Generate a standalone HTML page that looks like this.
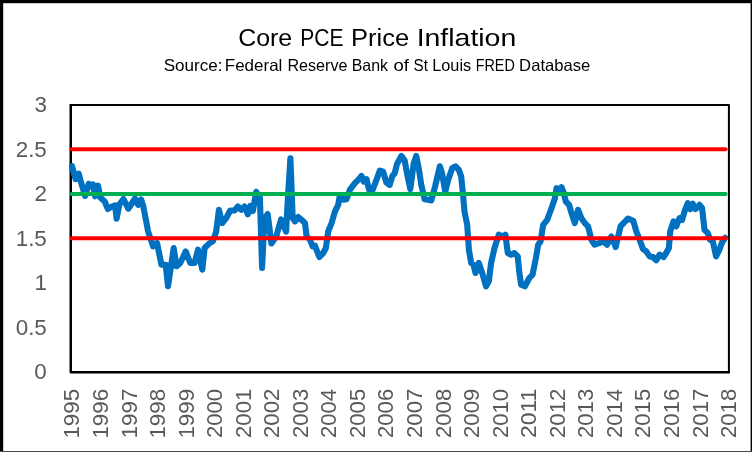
<!DOCTYPE html>
<html><head><meta charset="utf-8"><title>Core PCE Price Inflation</title>
<style>
html,body{margin:0;padding:0;background:#fff;}
body{width:752px;height:452px;overflow:hidden;position:relative;font-family:"Liberation Sans",sans-serif;}
svg{position:absolute;left:0;top:0;display:block;will-change:transform;}
text{font-family:"Liberation Sans",sans-serif;}
</style></head><body>
<svg width="752" height="452" viewBox="0 0 752 452">
<rect x="0" y="0" width="752" height="452" fill="#fff"/>
<!-- outer frame -->
<rect x="0" y="0" width="752" height="3.2" fill="#000"/>
<rect x="0" y="0" width="3.2" height="452" fill="#000"/>
<rect x="750.6" y="0" width="1.4" height="452" fill="#000"/>
<rect x="0" y="451" width="752" height="1" fill="#4a4a4a"/>
<!-- titles -->
<text transform="translate(238.19,45.5) scale(1.0058,1)" font-size="24.8" fill="#000">Core</text>
<text transform="translate(300.30,45.5) scale(0.8479,1)" font-size="24.8" fill="#000">PCE</text>
<text transform="translate(350.94,45.5) scale(1.0300,1)" font-size="24.8" fill="#000">Price</text>
<text transform="translate(416.66,45.5) scale(1.1470,1)" font-size="24.8" fill="#000">Inflation</text>
<text transform="translate(163.69,70.8) scale(1.0107,1)" font-size="16.9" fill="#000">Source:</text>
<text transform="translate(224.79,70.8) scale(1.0055,1)" font-size="16.9" fill="#000">Federal</text>
<text transform="translate(287.47,70.8) scale(0.9522,1)" font-size="16.9" fill="#000">Reserve</text>
<text transform="translate(351.68,70.8) scale(0.9434,1)" font-size="16.9" fill="#000">Bank</text>
<text transform="translate(393.43,70.8) scale(1.0970,1)" font-size="16.9" fill="#000">of</text>
<text transform="translate(413.58,70.8) scale(0.9007,1)" font-size="16.9" fill="#000">St</text>
<text transform="translate(432.15,70.8) scale(0.9661,1)" font-size="16.9" fill="#000">Louis</text>
<text transform="translate(475.71,70.8) scale(0.8493,1)" font-size="16.9" fill="#000">FRED</text>
<text transform="translate(519.12,70.8) scale(0.9857,1)" font-size="16.9" fill="#000">Database</text>
<!-- plot frame -->
<path d="M70.6,105 H728.9 V372.2" fill="none" stroke="#000" stroke-width="2" stroke-linejoin="round" stroke-linecap="round"/>
<path d="M70.75,104.2 V372.2 H729.8" fill="none" stroke="#000" stroke-width="2.5" stroke-linejoin="round" stroke-linecap="butt"/>
<!-- data -->
<polyline points="72.0,166.0 75.6,179.2 78.7,173.6 80.7,181.1 85.2,196.0 88.7,183.8 91.1,186.4 93.0,184.5 95.1,196.3 98.0,185.7 100.4,197.6 104.7,201.5 107.9,209.0 111.9,206.6 115.1,205.4 116.6,218.6 119.4,204.3 123.5,199.1 128.3,208.7 131.8,203.5 135.0,198.5 138.2,204.9 141.1,199.5 143.3,206.2 148.1,231.4 153.1,246.4 157.1,243.1 161.4,264.7 165.7,264.7 168.0,286.3 173.7,248.0 176.4,266.3 180.3,263.0 185.7,251.4 190.3,263.0 194.6,263.0 198.0,249.7 202.3,269.7 204.6,248.0 209.6,243.1 212.9,241.4 216.2,231.4 218.9,209.8 222.2,223.1 226.2,218.1 230.2,210.5 234.5,210.5 237.9,206.5 241.2,209.8 244.6,206.5 247.8,214.3 250.3,205.9 252.9,211.1 254.5,201.5 256.2,191.8 259.9,197.9 262.1,267.9 264.5,218.1 267.7,214.1 271.4,243.5 276.2,236.5 281.1,219.4 286.1,231.7 288.0,196.0 290.4,158.3 292.7,218.1 295.0,221.4 298.3,217.1 301.6,219.8 305.0,223.1 306.6,236.4 309.9,239.7 312.6,246.4 314.9,245.7 319.3,257.0 323.2,253.0 325.9,248.0 328.2,231.4 331.6,223.1 334.9,211.5 338.2,204.8 339.9,194.9 343.2,199.8 346.5,199.2 349.8,189.9 354.8,183.2 358.2,179.9 361.5,175.9 363.8,181.6 366.5,179.2 369.1,189.9 372.4,190.5 375.8,181.6 379.8,170.6 383.1,171.6 386.4,182.6 389.7,184.9 392.4,175.9 394.7,173.2 397.0,163.9 401.4,156.0 404.7,160.6 407.0,173.2 410.3,189.2 413.7,163.3 416.3,156.0 419.0,169.9 421.3,184.9 424.6,199.2 428.0,199.8 431.3,200.4 435.1,186.5 439.9,166.3 442.1,173.3 445.2,191.8 448.2,179.8 452.2,168.2 455.5,166.3 458.9,169.9 461.2,176.6 462.9,193.2 464.5,211.5 467.2,224.8 468.9,249.7 471.2,263.0 473.5,264.7 475.5,273.0 478.8,263.0 482.2,273.0 486.1,286.3 488.8,281.3 491.1,263.0 494.5,248.0 498.8,234.7 502.8,236.4 505.4,234.7 507.8,253.0 511.1,254.7 514.4,253.0 517.7,256.4 519.4,273.0 521.1,284.6 524.9,286.3 529.3,278.0 532.6,274.6 535.9,258.0 538.2,244.7 540.6,241.4 543.2,224.8 547.2,219.8 551.5,208.2 554.9,198.2 556.5,188.2 559.2,189.9 561.5,187.2 563.8,193.2 565.8,201.5 569.1,204.8 571.5,213.1 574.8,223.1 578.1,209.8 581.4,218.1 584.8,223.1 588.1,226.4 591.4,239.7 594.7,244.7 599.1,243.1 603.1,241.4 607.0,244.7 611.4,236.4 615.7,247.0 620.6,226.2 623.3,223.3 628.1,218.5 633.4,221.1 636.3,231.4 639.6,239.7 643.0,249.0 646.3,251.4 649.6,256.4 652.9,257.0 656.2,260.3 659.6,254.7 663.6,257.0 666.2,253.0 668.9,248.0 670.2,231.4 673.5,221.4 676.2,226.4 679.5,218.1 682.2,219.8 684.5,211.5 687.8,203.2 690.2,209.1 692.8,203.8 695.5,209.1 699.5,204.8 702.1,208.2 704.5,229.8 707.8,233.1 710.1,239.7 712.8,241.4 716.1,256.4 719.4,249.7 722.1,242.4 725.2,237.8" fill="none" stroke="#0070C0" stroke-width="6.1" stroke-linejoin="round" stroke-linecap="round"/>
<!-- reference lines -->
<line x1="71.60" y1="149.3" x2="725.60" y2="149.3" stroke="#FF0000" stroke-width="4.05" stroke-linecap="round"/>
<line x1="71.60" y1="194.0" x2="725.60" y2="194.0" stroke="#00B050" stroke-width="4.05" stroke-linecap="round"/>
<line x1="71.60" y1="238.15" x2="725.60" y2="238.15" stroke="#FF0000" stroke-width="4.05" stroke-linecap="round"/>
<!-- axis labels -->
<text transform="translate(34.30,379.3) scale(1.0000,1)" font-size="22.4" fill="#595959">0</text>
<text transform="translate(15.70,334.77) scale(1.0000,1)" font-size="22.4" fill="#595959">0.5</text>
<text transform="translate(34.50,290.23) scale(1.0000,1)" font-size="22.4" fill="#595959">1</text>
<text transform="translate(15.70,245.7) scale(1.0000,1)" font-size="22.4" fill="#595959">1.5</text>
<text transform="translate(34.60,201.17) scale(1.0000,1)" font-size="22.4" fill="#595959">2</text>
<text transform="translate(15.70,156.63) scale(1.0000,1)" font-size="22.4" fill="#595959">2.5</text>
<text transform="translate(34.40,112.1) scale(1.0000,1)" font-size="22.4" fill="#595959">3</text>
<text transform="translate(79.40,438.60) rotate(-90) scale(1.0000,1)" font-size="22.4" fill="#595959">1995</text>
<text transform="translate(107.95,438.60) rotate(-90) scale(1.0000,1)" font-size="22.4" fill="#595959">1996</text>
<text transform="translate(136.50,438.61) rotate(-90) scale(1.0043,1)" font-size="22.4" fill="#595959">1997</text>
<text transform="translate(165.05,438.60) rotate(-90) scale(1.0000,1)" font-size="22.4" fill="#595959">1998</text>
<text transform="translate(193.60,438.60) rotate(-90) scale(1.0021,1)" font-size="22.4" fill="#595959">1999</text>
<text transform="translate(222.15,437.98) rotate(-90) scale(0.9854,1)" font-size="22.4" fill="#595959">2000</text>
<text transform="translate(250.70,437.99) rotate(-90) scale(0.9895,1)" font-size="22.4" fill="#595959">2001</text>
<text transform="translate(279.25,437.99) rotate(-90) scale(0.9916,1)" font-size="22.4" fill="#595959">2002</text>
<text transform="translate(307.80,437.99) rotate(-90) scale(0.9874,1)" font-size="22.4" fill="#595959">2003</text>
<text transform="translate(336.35,437.98) rotate(-90) scale(0.9813,1)" font-size="22.4" fill="#595959">2004</text>
<text transform="translate(364.90,437.99) rotate(-90) scale(0.9874,1)" font-size="22.4" fill="#595959">2005</text>
<text transform="translate(393.45,437.99) rotate(-90) scale(0.9874,1)" font-size="22.4" fill="#595959">2006</text>
<text transform="translate(422.00,437.99) rotate(-90) scale(0.9916,1)" font-size="22.4" fill="#595959">2007</text>
<text transform="translate(450.55,437.99) rotate(-90) scale(0.9874,1)" font-size="22.4" fill="#595959">2008</text>
<text transform="translate(479.10,437.99) rotate(-90) scale(0.9895,1)" font-size="22.4" fill="#595959">2009</text>
<text transform="translate(507.65,437.98) rotate(-90) scale(0.9854,1)" font-size="22.4" fill="#595959">2010</text>
<text transform="translate(536.20,438.03) rotate(-90) scale(1.0261,1)" font-size="22.4" fill="#595959">2011</text>
<text transform="translate(564.75,437.99) rotate(-90) scale(0.9916,1)" font-size="22.4" fill="#595959">2012</text>
<text transform="translate(593.30,437.99) rotate(-90) scale(0.9874,1)" font-size="22.4" fill="#595959">2013</text>
<text transform="translate(621.85,437.98) rotate(-90) scale(0.9813,1)" font-size="22.4" fill="#595959">2014</text>
<text transform="translate(650.40,437.99) rotate(-90) scale(0.9874,1)" font-size="22.4" fill="#595959">2015</text>
<text transform="translate(678.95,437.99) rotate(-90) scale(0.9874,1)" font-size="22.4" fill="#595959">2016</text>
<text transform="translate(707.50,437.99) rotate(-90) scale(0.9916,1)" font-size="22.4" fill="#595959">2017</text>
<text transform="translate(736.05,437.99) rotate(-90) scale(0.9874,1)" font-size="22.4" fill="#595959">2018</text>
</svg>
</body></html>
